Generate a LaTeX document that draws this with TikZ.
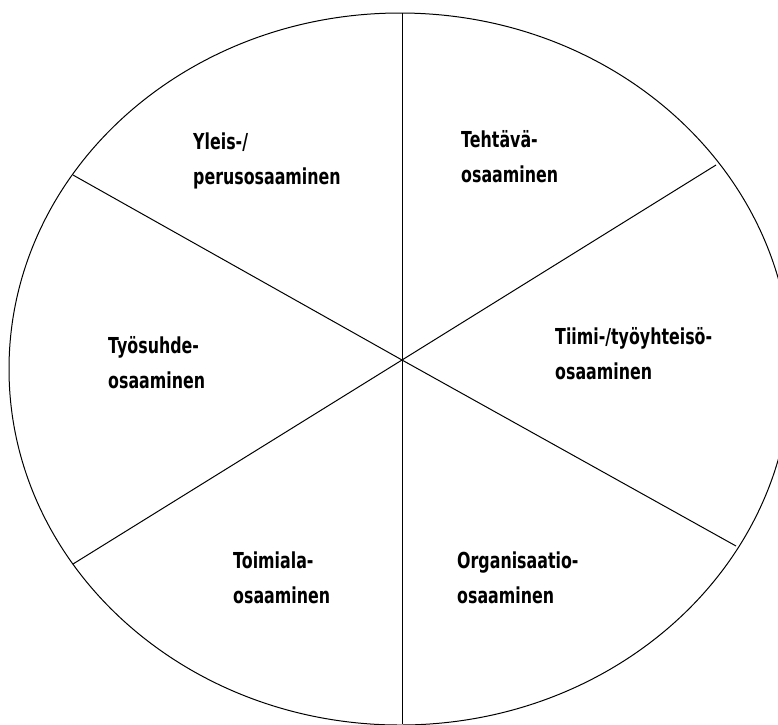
\documentclass[tikz,border=0pt]{standalone}
\usepackage{fontspec}
\newfontfamily\lblfont[FakeStretch=0.72]{DejaVu Sans}
\usetikzlibrary{positioning}

\begin{document}
\begin{tikzpicture}[
    x=1pt, y=-1pt,
    lbl/.style={anchor=base west, inner sep=0pt, align=left, font=\lblfont\bfseries\fontsize{22}{35}\selectfont},
    rim/.style={draw, line width=1pt},
    spoke/.style={draw, line width=1pt}
]
    \useasboundingbox (0,0) rectangle (778,724);
    \clip (0,0) rectangle (778,724);

    % the wheel
    \path [rim] (400,369) ellipse [x radius=391pt, y radius=356pt];

    \coordinate (hub) at (402,360);
    \coordinate (top) at (402,13);
    \coordinate (bot) at (402,724);
    \coordinate (ul) at (73,175);
    \coordinate (ur) at (716,165);
    \coordinate (ll) at (73,564);
    \coordinate (lr) at (736,546);

    \path [spoke] (top) -- (bot);
    \path [spoke] (ul) -- (hub) -- (lr);
    \path [spoke] (ll) -- (hub) -- (ur);

    % sectors (anchored at the baseline of the last line)
    \node [lbl] (yleis) at (193,184) {Yleis-/\\perusosaaminen};
    \node [lbl] (tehtava) at (461,182) {Tehtävä-\\osaaminen};
    \node [lbl] (tiimi) at (555,379) {Tiimi-/työyhteisö-\\osaaminen};
    \node [lbl] (tyosuhde) at (108,388) {Työsuhde-\\osaaminen};
    \node [lbl] (toimiala) at (233,603) {Toimiala-\\osaaminen};
    \node [lbl] (organisaatio) at (457,603) {Organisaatio-\\osaaminen};
\end{tikzpicture}
\end{document}
